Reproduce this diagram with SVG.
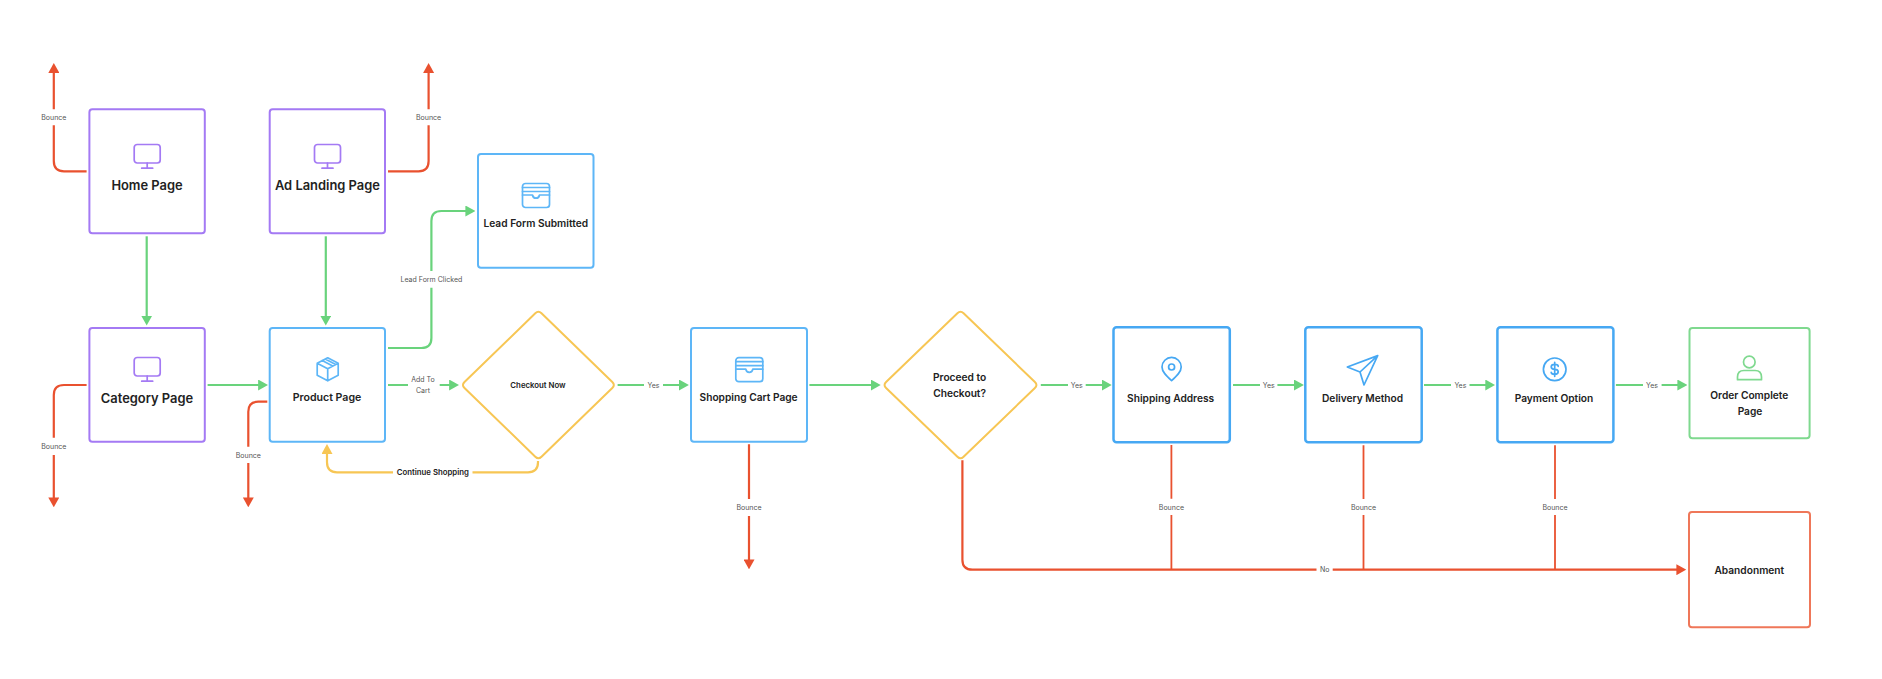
<svg xmlns="http://www.w3.org/2000/svg" xmlns:xlink="http://www.w3.org/1999/xlink" width="1882" height="679" viewBox="0 0 1882 679">
<style>
text{font-family:Inter,"Liberation Sans",sans-serif;text-anchor:middle;dominant-baseline:central;fill:#222}
.t1{font-size:12.9px;font-weight:600}
.t2{font-size:10.2px;font-weight:600}
.t2b{font-size:10.6px;font-weight:600}
.t3{font-size:7.8px;font-weight:600}
.l{font-size:7px;fill:#555}
.node{fill:#fff;stroke-width:2}
.pu{stroke:#A47AF4}
.bl{stroke:#5DB6F7}
.bd{stroke:#46A8F3;stroke-width:2.5}
.gr{stroke:#7FD98F}
.ab{stroke:#EF7759}
.ye{stroke:#F7C654}
.ic{fill:none;stroke-width:1.7;stroke-linejoin:round;stroke-linecap:round}
.cg,.cr,.cy,.crt{fill:none;stroke-width:2.2}
.cg{stroke:#69D37C;marker-end:url(#ag)}
.cr{stroke:#E9512F;marker-end:url(#ar)}
.crt{stroke:#E9512F;stroke-width:1.8}
.cy{stroke:#F7C654;marker-end:url(#ay)}
</style>
<defs>
<marker id="ag" markerUnits="userSpaceOnUse" markerWidth="10" markerHeight="11" viewBox="0 0 9 10" refX="6" refY="5" orient="auto"><path d="M0 0L9 5L0 10Z" fill="#69D37C"/></marker>
<marker id="ar" markerUnits="userSpaceOnUse" markerWidth="10" markerHeight="11" viewBox="0 0 9 10" refX="6" refY="5" orient="auto"><path d="M0 0L9 5L0 10Z" fill="#E9512F"/></marker>
<marker id="ay" markerUnits="userSpaceOnUse" markerWidth="10" markerHeight="11" viewBox="0 0 9 10" refX="6" refY="5" orient="auto"><path d="M0 0L9 5L0 10Z" fill="#F7C654"/></marker>
<g id="monitor"><rect x="0.5" y="0.5" width="26" height="18.5" rx="3"/><path d="M13.5 19V24M8 24.2H19"/></g>
<g id="box"><path d="M11 0.5L21.5 6V18L11 23.5L0.5 18V6ZM0.5 6L11 11.5L21.5 6M11 11.5V23.5M5.5 3.2L16 8.7M8.5 1.8L19 7.3"/></g>
<g id="wallet"><rect x="0.5" y="0.5" width="27" height="24" rx="3"/><path d="M0.5 4.5H27.5M0.5 8.5H27.5M0.5 12H10.5Q11 15.2 14 15.2Q17 15.2 17.5 12H27.5"/></g>
</defs>
<rect width="1882" height="679" fill="#fff"/>
<g transform="translate(0 1)">
<g id="connectors">
<path class="cr" d="M86.6 170.3H64Q53.8 170.3 53.8 160V124.3M53.8 108.3V65.3"/>
<path class="cr" d="M388 170.3H418.6Q428.6 170.3 428.6 160V124.3M428.6 108.3V65.3"/>
<path class="cg" d="M146.7 235.3V321.3"/>
<path class="cg" d="M325.8 235.3V321.3"/>
<path class="cg" d="M388 347H421.4Q431.4 347 431.4 337V286.7M431.4 270V220Q431.4 210 441.4 210H472"/>
<path class="cr" d="M86.6 384H64Q53.8 384 53.8 394V436.7M53.8 454V503"/>
<path class="cr" d="M267.3 400.7H258.3Q248.3 400.7 248.3 410.7V445.7M248.3 462V503"/>
<path class="cg" d="M207.6 384H264.7"/>
<path class="cg" d="M388 384H408M439.7 384H455.7"/>
<path class="cy" d="M538 460V461.3Q538 471.3 528 471.3H472.5M393 471.3H337Q327 471.3 327 461.3V446.3"/>
<path class="cg" d="M617.6 384H644M663 384H685.6"/>
<path class="cg" d="M809.4 384H877.4"/>
<path class="cg" d="M1040.8 384H1068M1085.7 384H1108.4"/>
<path class="cg" d="M1233 384H1260M1277.4 384H1300.6"/>
<path class="cg" d="M1424 384H1451M1469.5 384H1491.9"/>
<path class="cg" d="M1615.9 384H1643M1661.6 384H1684"/>
<path class="cr" d="M749 443.3V498M749 515V565"/>
<path class="cr" d="M962.4 459.3V558.7Q962.4 568.7 972.4 568.7H1316.5M1332.7 568.7H1683"/>
<path class="crt" d="M1171.4 444V497.7M1171.4 514V568.7"/>
<path class="crt" d="M1363.5 444.3V498M1363.5 514V568.7"/>
<path class="crt" d="M1555 444.3V498M1555 514V568.7"/>
<text class="l" x="53.8" y="116.3">Bounce</text>
<text class="l" x="428.6" y="116.3">Bounce</text>
<text class="l" x="431.4" y="278.5">Lead Form Clicked</text>
<text class="l" x="53.8" y="445.3">Bounce</text>
<text class="l" x="248.3" y="454">Bounce</text>
<text class="l" x="423" y="378.7">Add To</text>
<text class="l" x="423" y="389.3">Cart</text>
<text class="t3" x="432.8" y="471.3">Continue Shopping</text>
<text class="l" x="653.5" y="384">Yes</text>
<text class="l" x="1076.7" y="384">Yes</text>
<text class="l" x="1268.7" y="384">Yes</text>
<text class="l" x="1460.4" y="384">Yes</text>
<text class="l" x="1652" y="384">Yes</text>
<text class="l" x="749" y="506.5">Bounce</text>
<text class="l" x="1171.4" y="506">Bounce</text>
<text class="l" x="1363.5" y="506">Bounce</text>
<text class="l" x="1555" y="506">Bounce</text>
<text class="l" x="1324.8" y="568.7">No</text>
</g>
<g id="home-page"><rect class="node pu" x="89.4" y="108.3" width="115.4" height="124" rx="3"/><use xlink:href="#monitor" href="#monitor" class="ic pu" x="133.7" y="143"/><text class="t1" x="147" y="184">Home Page</text></g>
<g id="ad-landing-page"><rect class="node pu" x="269.7" y="108.3" width="115.3" height="124" rx="3"/><use xlink:href="#monitor" href="#monitor" class="ic pu" x="314" y="143"/><text class="t1" x="327.4" y="184">Ad Landing Page</text></g>
<g id="lead-form-submitted"><rect class="node bl" x="478" y="153" width="115.5" height="113.7" rx="3"/><use xlink:href="#wallet" href="#wallet" class="ic bl" x="522" y="182"/><text class="t2" x="535.8" y="221.7">Lead Form Submitted</text></g>
<g id="category-page"><rect class="node pu" x="89.4" y="327" width="115.4" height="113.7" rx="3"/><use xlink:href="#monitor" href="#monitor" class="ic pu" x="133.7" y="356"/><text class="t1" x="147" y="397.7">Category Page</text></g>
<g id="product-page"><rect class="node bl" x="269.7" y="327" width="115.3" height="113.7" rx="3"/><use xlink:href="#box" href="#box" class="ic bl" x="316.7" y="356.3"/><text class="t2b" x="327" y="396">Product Page</text></g>
<g id="checkout-now"><path class="node ye" d="M535.3 312.3Q538.4 309.3 541.5 312.3L612.3 381Q615.4 384 612.3 387L541.5 455.7Q538.4 458.7 535.3 455.7L464.5 387Q461.4 384 464.5 381Z"/><text class="t3" x="538" y="384">Checkout Now</text></g>
<g id="shopping-cart-page"><rect class="node bl" x="691" y="327" width="116" height="113.7" rx="3"/><use xlink:href="#wallet" href="#wallet" class="ic bl" x="735.3" y="356.2"/><text class="t2" x="748.6" y="396">Shopping Cart Page</text></g>
<g id="proceed-to-checkout"><path class="node ye" d="M957.4 312.3Q960.5 309.3 963.6 312.3L1034.9 381Q1038 384 1034.9 387L963.6 455.7Q960.5 458.7 957.4 455.7L886.1 387Q883 384 886.1 381Z"/><text class="t2" x="959.6" y="376.3">Proceed to</text><text class="t2" x="959.6" y="392">Checkout?</text></g>
<g id="shipping-address"><rect class="node bd" x="1113.5" y="326.3" width="116.3" height="115" rx="3"/><path class="ic bd" d="M1171.6 379.7C1166.6 375.2 1162 371 1162 366A9.6 9.6 0 0 1 1181.2 366C1181.2 371 1176.6 375.2 1171.6 379.7Z"/><circle class="ic bd" cx="1171.6" cy="366" r="3"/><text class="t2" x="1170.6" y="397">Shipping Address</text></g>
<g id="delivery-method"><rect class="node bd" x="1305.3" y="326.3" width="116.4" height="115" rx="3"/><path class="ic bd" d="M1377.7 354.6L1347.3 366L1360 371L1364 384L1377.7 354.6L1360 371"/><text class="t2" x="1362.6" y="397">Delivery Method</text></g>
<g id="payment-option"><rect class="node bd" x="1497.4" y="326.3" width="116" height="115" rx="3"/><circle class="ic bd" cx="1554.7" cy="368.3" r="11.3"/><path class="ic bd" d="M1558.2 365.3C1558.2 363.8 1556.7 363.3 1554.7 363.3C1552.7 363.3 1551.2 364.3 1551.2 365.8C1551.2 367.8 1553.2 368.3 1554.7 368.3C1556.2 368.3 1558.2 368.8 1558.2 370.8C1558.2 372.3 1556.7 373.3 1554.7 373.3C1552.7 373.3 1551.2 372.8 1551.2 371.3M1554.7 361.3V375.3"/><text class="t2" x="1554" y="397">Payment Option</text></g>
<g id="order-complete-page"><rect class="node gr" x="1689.5" y="327" width="120.1" height="110.3" rx="3"/><circle class="ic gr" cx="1749.3" cy="361" r="5.8"/><path class="ic gr" d="M1737.5 378.7V376Q1737.5 369.5 1744 369.5H1755Q1761.5 369.5 1761.5 376V378.7Z"/><text class="t2" x="1749.3" y="394.3">Order Complete</text><text class="t2" x="1750" y="410">Page</text></g>
<g id="abandonment"><rect class="node ab" x="1689" y="511" width="121" height="115.3" rx="3"/><text class="t2" x="1749.3" y="569">Abandonment</text></g>
</g>
</svg>
